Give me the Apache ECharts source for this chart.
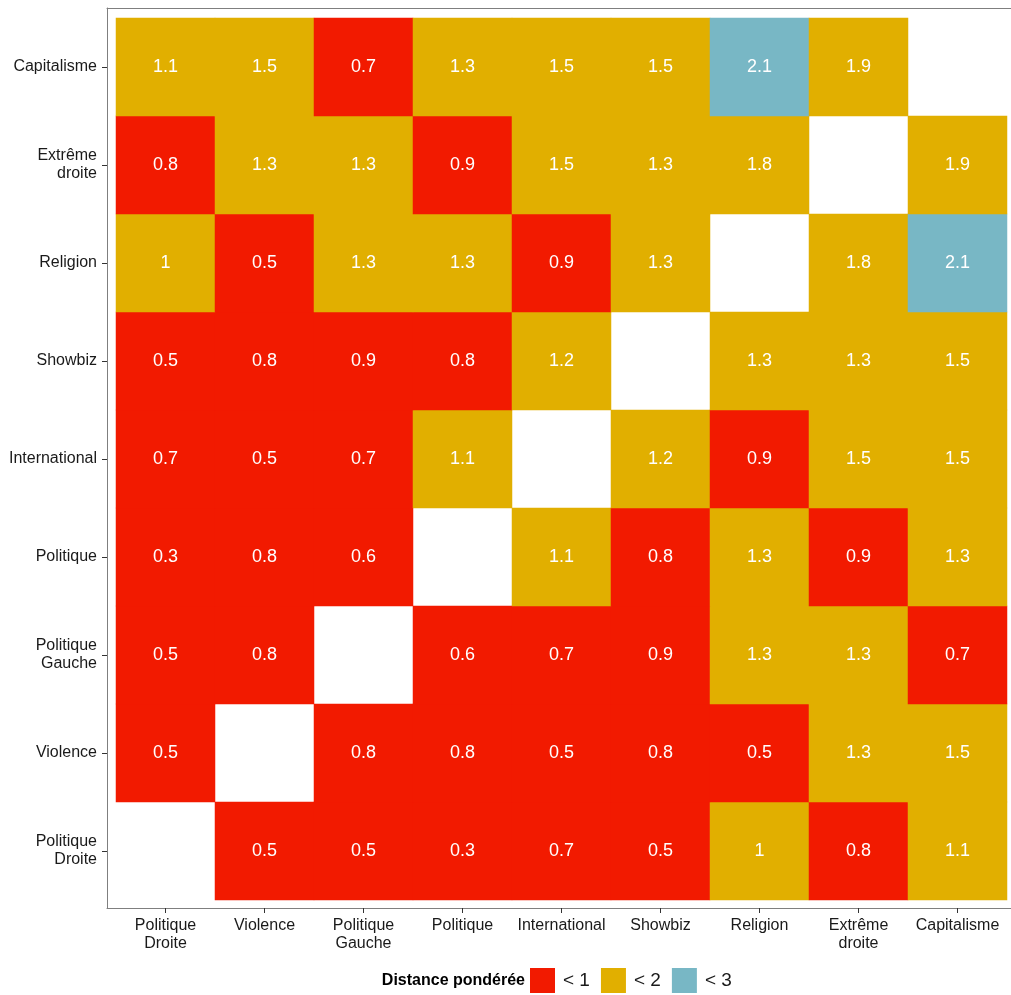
<!DOCTYPE html>
<html>
<head>
<meta charset="utf-8">
<script src="https://cdn.jsdelivr.net/npm/echarts@6/dist/echarts.min.js"></script>
<style>html,body{margin:0;padding:0;background:#fff;}#c{width:1011px;height:995px;}</style>
</head>
<body>
<div id="c"></div>
<script>
// Categories (x left->right, y bottom->top)
const categories = ['Politique\nDroite', 'Violence', 'Politique\nGauche', 'Politique', 'International', 'Showbiz', 'Religion', 'Extrême\ndroite', 'Capitalisme'];
// One row per y category (bottom to top); null = empty cell
const rowPolitiqueDroite = [null, 0.5, 0.5, 0.3, 0.7, 0.5, 1, 0.8, 1.1];
const rowViolence        = [0.5, null, 0.8, 0.8, 0.5, 0.8, 0.5, 1.3, 1.5];
const rowPolitiqueGauche = [0.5, 0.8, null, 0.6, 0.7, 0.9, 1.3, 1.3, 0.7];
const rowPolitique       = [0.3, 0.8, 0.6, null, 1.1, 0.8, 1.3, 0.9, 1.3];
const rowInternational   = [0.7, 0.5, 0.7, 1.1, null, 1.2, 0.9, 1.5, 1.5];
const rowShowbiz         = [0.5, 0.8, 0.9, 0.8, 1.2, null, 1.3, 1.3, 1.5];
const rowReligion        = [1, 0.5, 1.3, 1.3, 0.9, 1.3, null, 1.8, 2.1];
const rowExtremeDroite   = [0.8, 1.3, 1.3, 0.9, 1.5, 1.3, 1.8, null, 1.9];
const rowCapitalisme     = [1.1, 1.5, 0.7, 1.3, 1.5, 1.5, 2.1, 1.9, null];
const rows = [rowPolitiqueDroite, rowViolence, rowPolitiqueGauche, rowPolitique, rowInternational, rowShowbiz, rowReligion, rowExtremeDroite, rowCapitalisme];
const legendLabels = ['< 1', '< 2', '< 3'];
const legendTitle = 'Distance pondérée';

const data = [];
rows.forEach((row, yi) => row.forEach((v, xi) => { if (v !== null) data.push([xi, yi, v]); }));

const FONT = '"Liberation Sans", Arial, sans-serif';
const BORDER = {show: true, lineStyle: {color: '#7f7f7f', width: 1}};
const chart = echarts.init(document.getElementById('c'), null, {renderer: 'canvas'});
chart.setOption({
  animation: false,
  backgroundColor: '#ffffff',
  grid: [
    {left: 116, top: 18, width: 891, height: 882, containLabel: false},
    {left: 107, top: 8, right: 0, bottom: 87, show: false}
  ],
  xAxis: [
    {
      type: 'category', data: categories, gridIndex: 0, position: 'bottom', offset: 8,
      axisLine: {show: false},
      axisTick: {show: true, alignWithLabel: true, length: 5, lineStyle: {color: '#333', width: 1}},
      axisLabel: {fontFamily: FONT, fontSize: 16, color: '#1a1a1a', margin: 9, lineHeight: 18, interval: 0},
      splitLine: {show: false}
    },
    {type: 'value', gridIndex: 1, position: 'bottom', min: 0, max: 1, axisLine: BORDER, axisTick: {show: false}, axisLabel: {show: false}, splitLine: {show: false}},
    {type: 'value', gridIndex: 1, position: 'top', min: 0, max: 1, axisLine: BORDER, axisTick: {show: false}, axisLabel: {show: false}, splitLine: {show: false}}
  ],
  yAxis: [
    {
      type: 'category', data: categories, gridIndex: 0, position: 'left', offset: 9,
      axisLine: {show: false},
      axisTick: {show: true, alignWithLabel: true, length: 5, lineStyle: {color: '#333', width: 1}},
      axisLabel: {fontFamily: FONT, fontSize: 16, color: '#1a1a1a', margin: 10, lineHeight: 18, interval: 0, align: 'right'},
      splitLine: {show: false}
    },
    {type: 'value', gridIndex: 1, position: 'left', min: 0, max: 1, axisLine: BORDER, axisTick: {show: false}, axisLabel: {show: false}, splitLine: {show: false}}
  ],
  visualMap: {
    type: 'piecewise',
    dimension: 2,
    seriesIndex: 0,
    orient: 'horizontal',
    left: 530,
    bottom: 2,
    padding: 0,
    itemWidth: 25,
    itemHeight: 25,
    itemSymbol: 'rect',
    itemGap: 11,
    textGap: 8,
    showLabel: true,
    selectedMode: false,
    textStyle: {fontFamily: FONT, fontSize: 19, color: '#1a1a1a'},
    pieces: [
      {lt: 1, color: '#F21A00', label: legendLabels[0]},
      {gte: 1, lt: 2, color: '#E1AF00', label: legendLabels[1]},
      {gte: 2, lt: 3, color: '#78B7C5', label: legendLabels[2]}
    ]
  },
  graphic: [{
    type: 'text', x: 525, y: 981,
    style: {text: legendTitle, fontFamily: FONT, fontSize: 16, fontWeight: 'bold', fill: '#000', align: 'right', verticalAlign: 'middle'}
  }],
  series: [{
    type: 'heatmap',
    xAxisIndex: 0, yAxisIndex: 0,
    data: data,
    label: {show: true, color: '#ffffff', fontFamily: FONT, fontSize: 18, formatter: p => String(p.value[2])},
    itemStyle: {borderWidth: 0},
    emphasis: {disabled: true}
  }]
});
</script>
</body>
</html>
